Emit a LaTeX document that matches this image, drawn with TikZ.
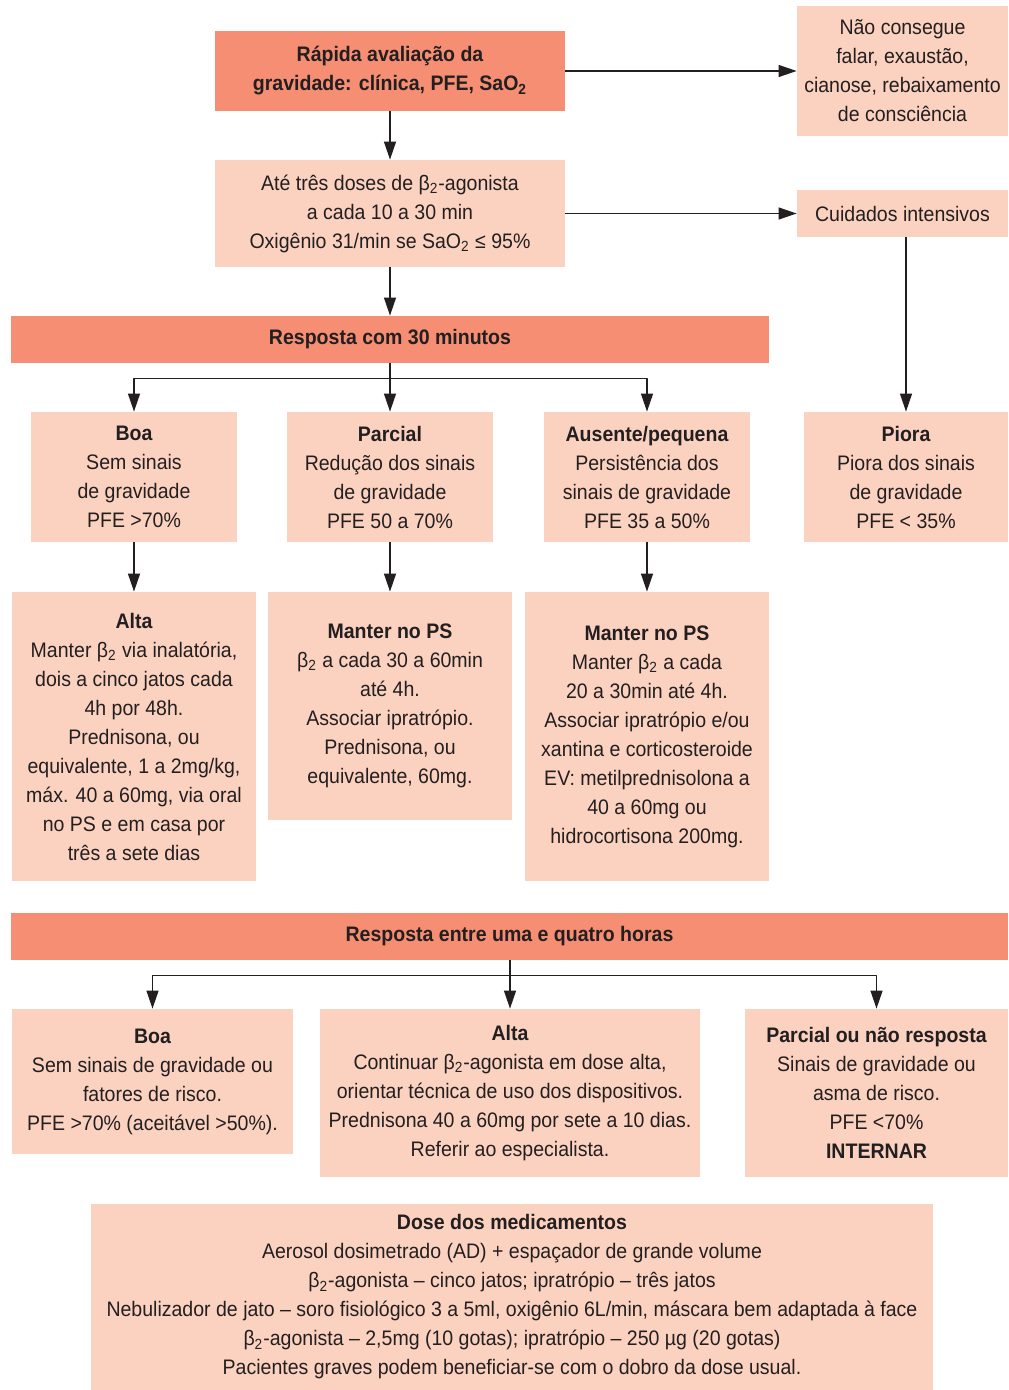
\documentclass[tikz,border=0pt]{standalone}
\usepackage{fontspec}
\setmainfont{Liberation Sans}[FakeStretch=0.93]
\usetikzlibrary{arrows.meta}
\definecolor{boxdark}{RGB}{245,142,115}
\definecolor{boxlight}{RGB}{251,210,192}
\definecolor{ink}{RGB}{35,31,32}
\newcommand{\btwo}{β\textsubscript{2}}
\newcommand{\sat}{SaO\textsubscript{2}}

\begin{document}
\begin{tikzpicture}[x=0.5pt,y=-0.5pt,>={Triangle[length=9pt,width=6pt]},line join=round,
    every node/.style={font=\fontsize{10.5}{14.5}\selectfont,text=ink,align=center,inner sep=0pt},
    head/.style={rectangle,fill=boxdark},
    box/.style={rectangle,fill=boxlight},
    link/.style={->,draw=ink,line width=0.6pt}]
    \useasboundingbox (0,0) rectangle (1008,1390);
    % first assessment
    \node[head,minimum width=175pt,minimum height=40pt] (fast) at (390,71)
        {\bfseries Rápida avaliação da\\\bfseries gravidade: clínica, PFE, \sat};
    \node[box,minimum width=105.5pt,minimum height=65pt] (signs) at (902.5,71)
        {Não consegue\\falar, exaustão,\\cianose, rebaixamento\\de consciência};
    \node[box,minimum width=175pt,minimum height=53.5pt] (doses) at (390,213.5)
        {Até três doses de \btwo-agonista\\a cada 10 a 30 min\\Oxigênio 31/min se \sat{} ≤ 95\%};
    \node[box,minimum width=105.5pt,minimum height=23.5pt] (icu) at (902.5,213.5)
        {Cuidados intensivos};
    % response after 30 minutes
    \node[head,minimum width=379pt,minimum height=23.5pt] (resp30) at (390,339.5)
        {\bfseries Resposta com 30 minutos};
    \node[box,minimum width=103pt,minimum height=65pt] (good) at (134,477)
        {\bfseries Boa\\Sem sinais\\de gravidade\\PFE >70\%};
    \node[box,minimum width=103pt,minimum height=65pt] (partial) at (390,477)
        {\bfseries Parcial\\Redução dos sinais\\de gravidade\\PFE 50 a 70\%};
    \node[box,minimum width=103pt,minimum height=65pt] (poor) at (647,477)
        {\bfseries Ausente/pequena\\Persistência dos\\sinais de gravidade\\PFE 35 a 50\%};
    \node[box,minimum width=102pt,minimum height=65pt] (worse) at (906,477)
        {\bfseries Piora\\Piora dos sinais\\de gravidade\\PFE < 35\%};
    \node[box,minimum width=122pt,minimum height=144.5pt] (disch) at (134,736.5)
        {\bfseries Alta\\Manter \btwo{} via inalatória,\\dois a cinco jatos cada\\4h por 48h.\\
         Prednisona, ou\\equivalente, 1 a 2mg/kg,\\máx. 40 a 60mg, via oral\\no PS e em casa por\\três a sete dias};
    \node[box,minimum width=122pt,minimum height=114pt] (keepa) at (390,706)
        {\bfseries Manter no PS\\\btwo{} a cada 30 a 60min\\até 4h.\\Associar ipratrópio.\\
         Prednisona, ou\\equivalente, 60mg.};
    \node[box,minimum width=122pt,minimum height=144.5pt] (keepb) at (647,736.5)
        {\bfseries Manter no PS\\Manter \btwo{} a cada\\20 a 30min até 4h.\\Associar ipratrópio e/ou\\
         xantina e corticosteroide\\EV: metilprednisolona a\\40 a 60mg ou\\hidrocortisona 200mg.};
    % response between one and four hours
    \node[head,minimum width=498.5pt,minimum height=23.5pt] (resp4) at (509.5,936.5)
        {\bfseries Resposta entre uma e quatro horas};
    \node[box,minimum width=140.5pt,minimum height=72.5pt] (goodb) at (152.5,1081.5)
        {\bfseries Boa\\Sem sinais de gravidade ou\\fatores de risco.\\PFE >70\% (aceitável >50\%).};
    \node[box,minimum width=190pt,minimum height=84pt] (high) at (510,1093)
        {\bfseries Alta\\Continuar \btwo-agonista em dose alta,\\orientar técnica de uso dos dispositivos.\\
         Prednisona 40 a 60mg por sete a 10 dias.\\Referir ao especialista.};
    \node[box,minimum width=131.5pt,minimum height=84pt] (admit) at (876.5,1093)
        {\bfseries Parcial ou não resposta\\Sinais de gravidade ou\\asma de risco.\\PFE <70\%\\\bfseries INTERNAR};
    % doses
    \node[box,minimum width=421pt,minimum height=93pt] (dose) at (512,1297)
        {\bfseries Dose dos medicamentos\\Aerosol dosimetrado (AD) + espaçador de grande volume\\
         \btwo-agonista – cinco jatos; ipratrópio – três jatos\\
         Nebulizador de jato – soro fisiológico 3 a 5ml, oxigênio 6L/min, máscara bem adaptada à face\\
         \btwo-agonista – 2,5mg (10 gotas); ipratrópio – 250 µg (20 gotas)\\
         Pacientes graves podem beneficiar-se com o dobro da dose usual.};
    % connectors
    \draw[link] (fast) -- (signs);
    \draw[link] (fast) -- (doses);
    \draw[link] (doses) -- (icu);
    \draw[link] (doses) -- (resp30);
    \draw[link] (icu.south -| worse.north) -- (worse.north);
    \draw[link] (resp30) -- (partial);
    \draw[link] (resp30.south) -- ++(0,15) -| (good.north);
    \draw[link] (resp30.south) -- ++(0,15) -| (poor.north);
    \draw[link] (good) -- (disch);
    \draw[link] (partial) -- (keepa);
    \draw[link] (poor) -- (keepb);
    \draw[link] (resp4.south -| high.north) -- (high.north);
    \draw[link] (resp4.south -| high.north) -- ++(0,15) -| (goodb.north);
    \draw[link] (resp4.south -| high.north) -- ++(0,15) -| (admit.north);
\end{tikzpicture}
\end{document}
